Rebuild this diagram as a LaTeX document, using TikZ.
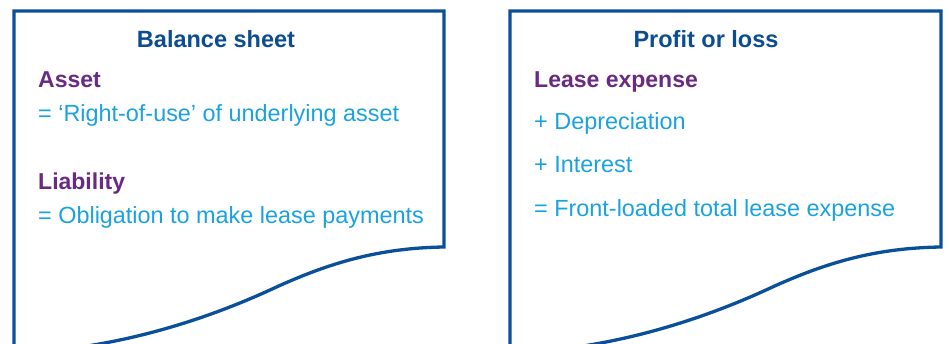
\documentclass[tikz,border=0pt]{standalone}
\usepackage{fontspec}
\setmainfont{Liberation Sans}
\definecolor{frameblue}{HTML}{0A4F9A}
\definecolor{headblue}{HTML}{0C4C92}
\definecolor{plum}{HTML}{6A2A84}
\definecolor{sky}{HTML}{1AA2DF}
\begin{document}
\begin{tikzpicture}[x=1pt,y=-1pt,
  sheet/.style={draw=frameblue,line width=3.3pt,line join=miter},
  head/.style={anchor=base,inner sep=0pt,text=headblue,font=\fontsize{23.5}{26}\selectfont\bfseries},
  sub/.style={anchor=base west,inner sep=0pt,text=plum,font=\fontsize{23}{26}\selectfont\bfseries},
  body/.style={anchor=base west,inner sep=0pt,text=sky,font=\fontsize{23.4}{26}\selectfont}]
\useasboundingbox (0,0) rectangle (949,344);
% left sheet with curled lower edge
\draw[sheet] (56,350) .. controls (126,343) and (200,322) .. (270,290)
  .. controls (330,262) and (380,248) .. (444,247) -- (444,11) -- (14,11) -- (14,350);
% right sheet with curled lower edge
\draw[sheet] (552,350) .. controls (622,343) and (696,322) .. (766,290)
  .. controls (826,262) and (876,248) .. (941,247) -- (941,11) -- (510,11) -- (510,350);
% balance sheet text
\node[head] (bs) at (216,48) {Balance sheet};
\node[sub] (asset) at (38,88) {Asset};
\node[body] (rou) at (38,122) {= ‘Right-of-use’ of underlying asset};
\node[sub] (liab) at (38,190) {Liability};
\node[body] (obl) at (38,224) {= Obligation to make lease payments};
% profit or loss text
\node[head] (pl) at (706,48) {Profit or loss};
\node[sub] (lex) at (534,88) {Lease expense};
\node[body] (dep) at (534,130) {+ Depreciation};
\node[body] (int) at (534,173) {+ Interest};
\node[body] (tot) at (534,217) {= Front-loaded total lease expense};
\end{tikzpicture}
\end{document}
